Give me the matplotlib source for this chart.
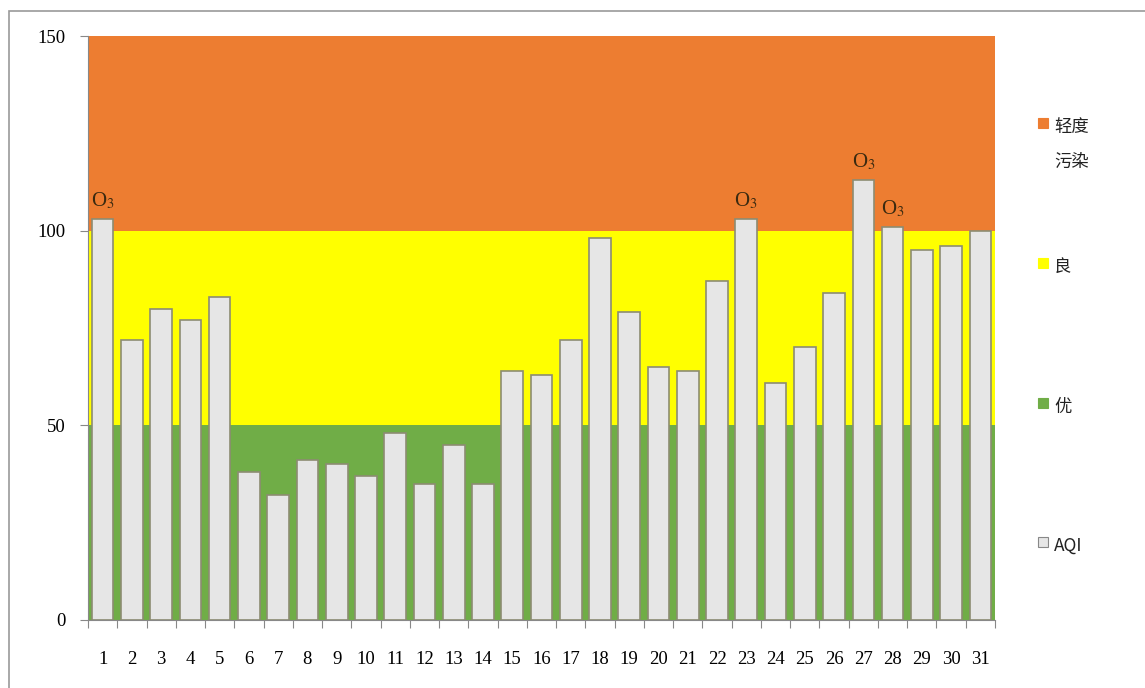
import matplotlib.pyplot as plt
from matplotlib.patches import Rectangle
import numpy as np

plt.rcParams['font.family'] = ['Liberation Serif', 'Noto Sans CJK SC', 'DejaVu Sans']
plt.rcParams['mathtext.fontset'] = 'stix'

# daily AQI for the month
days = np.arange(1, 32)
aqi = [103, 72, 80, 77, 83, 38, 32, 41, 40, 37, 48, 35, 45, 35, 64,
       63, 72, 98, 79, 65, 64, 87, 103, 61, 70, 84, 113, 101, 95, 96, 100]
o3_days = [1, 23, 27, 28]   # days with O3 as primary pollutant

# background grade bands (stacked)
band_names = ['优', '良', '轻度\n污染']
band_heights = [50, 50, 50]
band_colors = ['#70ad47', '#ffff00', '#ed7d31']

W, H = 1145, 688
fig = plt.figure(figsize=(W / 100, H / 100), dpi=100)
ax = fig.add_axes([88 / W, 1 - 620 / H, 907 / W, 584 / H])

bottom = np.zeros(len(days))
for name, h, c in zip(band_names, band_heights, band_colors):
    ax.bar(days, [h] * len(days), width=1.0, bottom=bottom, color=c, linewidth=0)
    bottom += h

ax.bar(days, aqi, width=0.74, color='#e6e6e6', edgecolor='#8c8c72', linewidth=1.2)

for d in o3_days:
    ax.text(d, aqi[d - 1] + 2, r'O$_3$', ha='center', va='bottom', fontsize=15, color='#3a2a10')

ax.set_xlim(0.5, 31.5)
ax.set_ylim(0, 150)
ax.set_yticks([0, 50, 100, 150])
ax.set_xticks(np.arange(0.5, 32, 1))
ax.set_xticklabels([])
ax.set_xticks(days, minor=True)
ax.set_xticklabels([str(d) for d in days], minor=True)
ax.tick_params(axis='x', which='minor', length=0, pad=22, labelsize=13.5)
ax.tick_params(axis='x', which='major', length=6, color='#888888')
ax.tick_params(axis='y', length=6, color='#888888', labelsize=13.5, pad=10)
for s in ['top', 'right']:
    ax.spines[s].set_visible(False)
for s in ['left', 'bottom']:
    ax.spines[s].set_color('#888888')

# legend on the right, drawn by hand to match spacing
leg_labels = ['轻度\n污染', '良', '优', 'AQI']
leg_colors = ['#ed7d31', '#ffff00', '#70ad47', '#e6e6e6']
leg_y = [118, 258, 398, 537]   # top pixel of each marker
for lab, c, y in zip(leg_labels, leg_colors, leg_y):
    ec = '#888888' if lab == 'AQI' else c
    fig.patches.append(Rectangle((1038 / W, 1 - (y + 10) / H), 10 / W, 10 / H,
                                 transform=fig.transFigure, facecolor=c, edgecolor=ec, linewidth=0.8))
    fig.text(1054 / W, 1 - y / H, lab, ha='left', va='top', fontsize=12.5, linespacing=2.2,
             family=['Noto Sans CJK SC', 'DejaVu Sans'], color='#222222')

# outer border
fig.patches.append(Rectangle((9 / W, -0.05), 1.2, 1 - 11 / H + 0.05, transform=fig.transFigure,
                             fill=False, edgecolor='#999999', linewidth=1.2))

fig.savefig('out.png', dpi=100)
